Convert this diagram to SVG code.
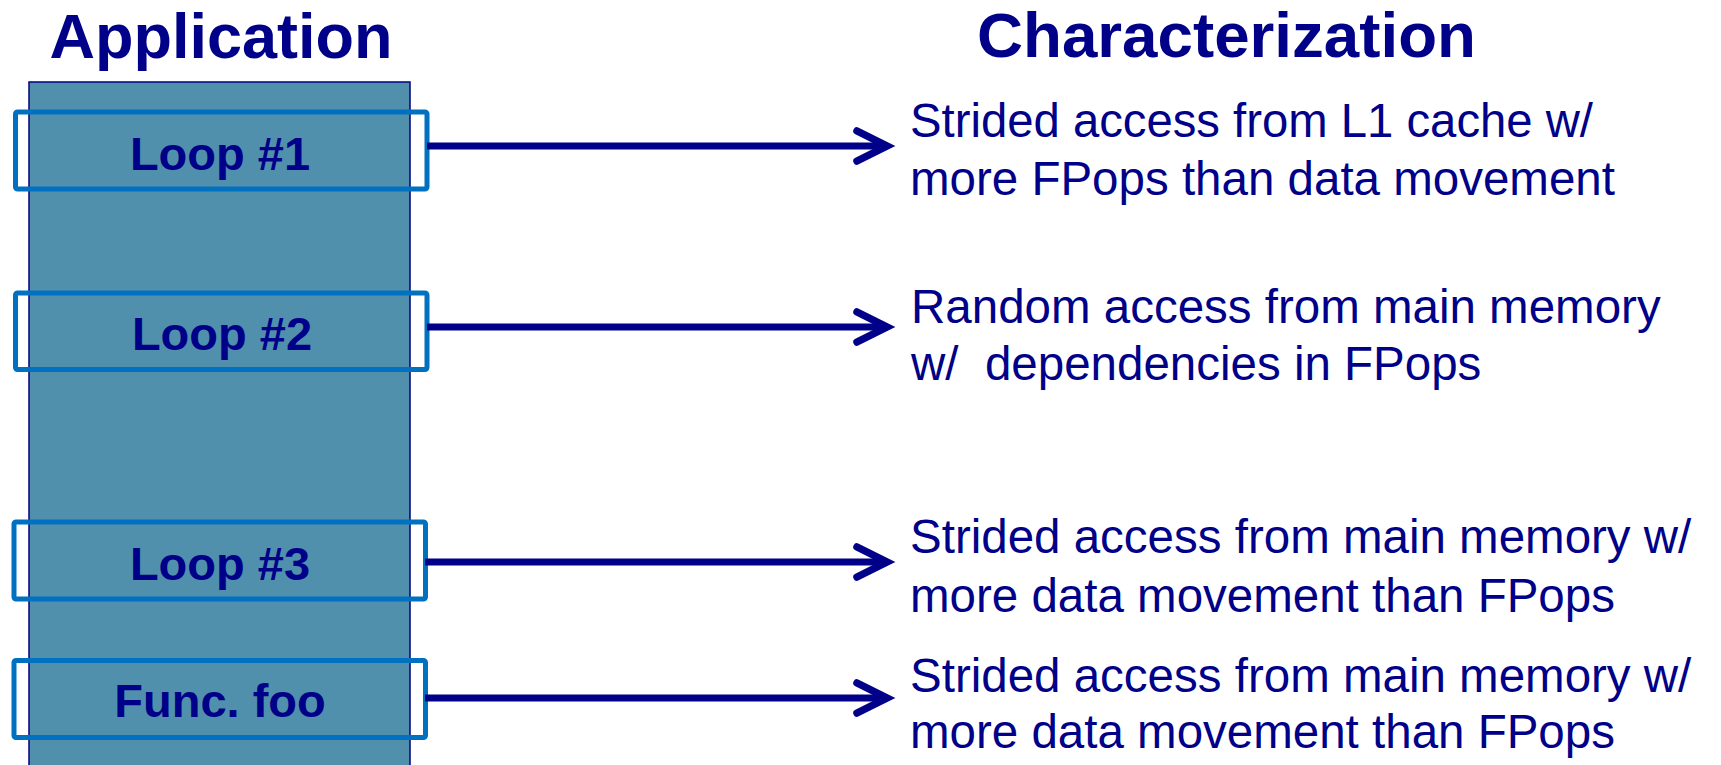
<svg xmlns="http://www.w3.org/2000/svg" width="1721" height="765" viewBox="0 0 1721 765">
<style>
.head{font-family:"Liberation Sans",Arial,sans-serif;font-weight:bold;font-size:63px;fill:#000088}
.lbl{font-family:"Liberation Sans",Arial,sans-serif;font-weight:bold;font-size:47px;fill:#000088;text-anchor:middle}
.desc{font-family:"Liberation Sans",Arial,sans-serif;font-size:47.5px;fill:#000088;white-space:pre}
.box{fill:none;stroke:#0070C0;stroke-width:5}
.conn{fill:none;stroke:#000088;stroke-width:7;stroke-linecap:butt}
.head-arrow{fill:none;stroke:#000088;stroke-width:7.5;stroke-linecap:round;stroke-linejoin:miter}
</style>
<rect width="1721" height="765" fill="#ffffff"/>
<text class="head" x="221" y="58" text-anchor="middle">Application</text>
<text class="head" x="977" y="57" textLength="499" lengthAdjust="spacingAndGlyphs">Characterization</text>
<g id="application">
<rect x="29" y="82" width="381" height="700" fill="#5090AD" stroke="#000080" stroke-width="1.5"/>
</g>
<g id="loop1">
<rect class="box" x="15.5" y="112" width="411.5" height="77" rx="2"/>
<text class="lbl" x="220" y="170">Loop #1</text>
</g>
<g id="loop2">
<rect class="box" x="15.5" y="293" width="411.5" height="76.5" rx="2"/>
<text class="lbl" x="222" y="350">Loop #2</text>
</g>
<g id="loop3">
<rect class="box" x="14" y="522" width="411.5" height="77" rx="2"/>
<text class="lbl" x="220" y="580">Loop #3</text>
</g>
<g id="funcfoo">
<rect class="box" x="14" y="660.5" width="411.5" height="77" rx="2"/>
<text class="lbl" x="220" y="717">Func. foo</text>
</g>
<g id="char1">
<text class="desc" x="910" y="137" textLength="683" lengthAdjust="spacingAndGlyphs">Strided access from L1 cache w/</text>
<text class="desc" x="910" y="195">more FPops than data movement</text>
</g>
<g id="char2">
<text class="desc" x="911" y="323">Random access from main memory</text>
<text class="desc" x="911" y="380">w/  dependencies in FPops</text>
</g>
<g id="char3">
<text class="desc" x="910" y="553">Strided access from main memory w/</text>
<text class="desc" x="910" y="612">more data movement than FPops</text>
</g>
<g id="char4">
<text class="desc" x="910" y="692">Strided access from main memory w/</text>
<text class="desc" x="910" y="748">more data movement than FPops</text>
</g>
<g id="connectors">
<line class="conn" x1="427" y1="146" x2="885" y2="146"/>
<polyline class="head-arrow" points="857,131 887,146 857,161"/>
<line class="conn" x1="427" y1="327" x2="885" y2="327"/>
<polyline class="head-arrow" points="857,312 887,327 857,342"/>
<line class="conn" x1="425" y1="562" x2="885" y2="562"/>
<polyline class="head-arrow" points="857,547 887,562 857,577"/>
<line class="conn" x1="425" y1="698" x2="885" y2="698"/>
<polyline class="head-arrow" points="857,683 887,698 857,713"/>
</g>
</svg>
